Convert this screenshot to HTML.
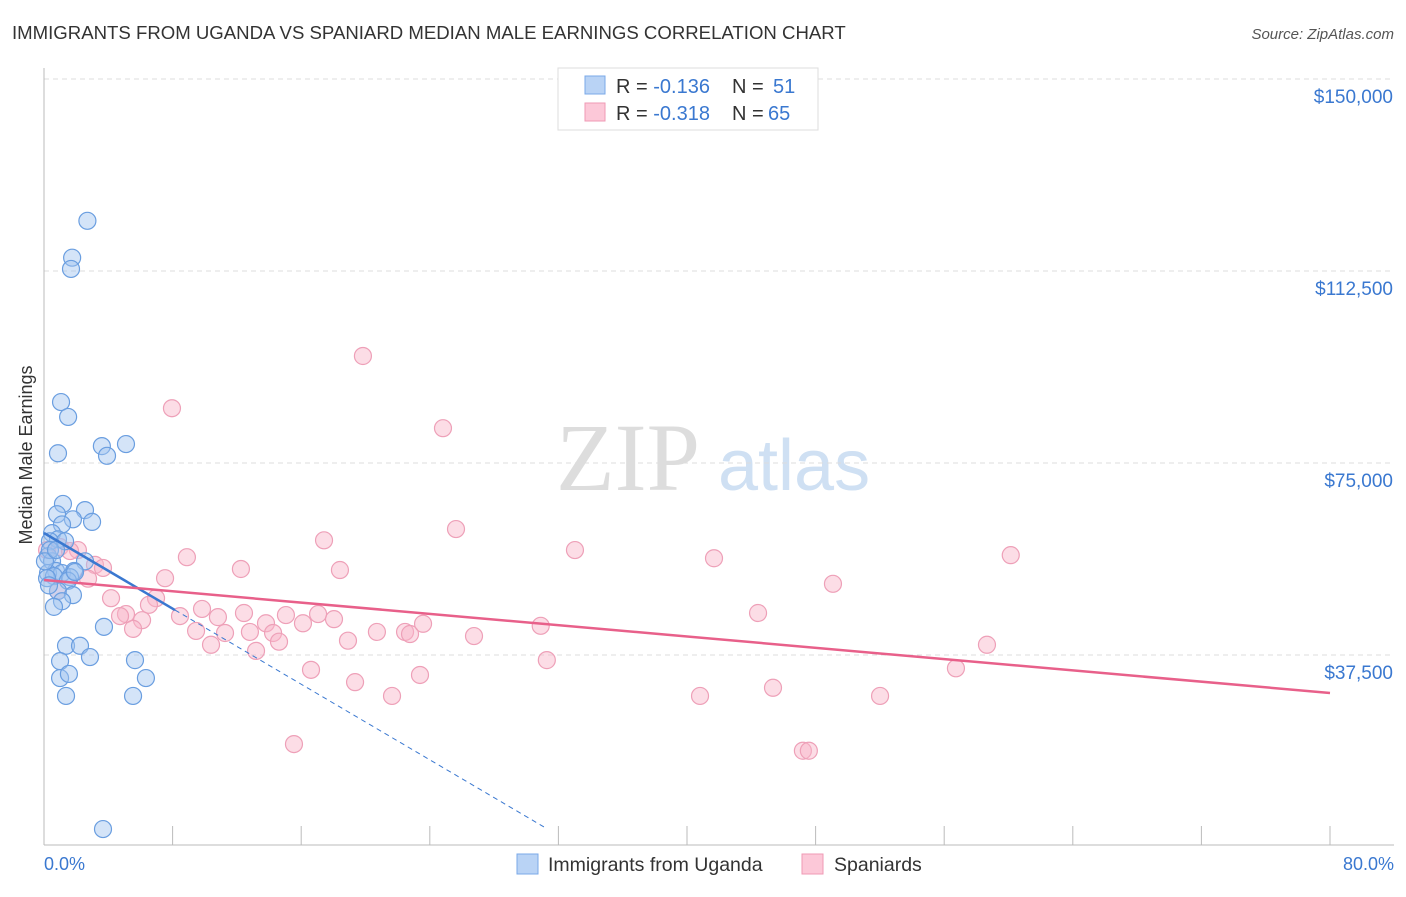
<!DOCTYPE html>
<html><head><meta charset="utf-8"><style>
body{margin:0;background:#fff;font-family:"Liberation Sans",sans-serif;}
</style></head><body>
<svg width="1406" height="892" xmlns="http://www.w3.org/2000/svg" style="font-family:'Liberation Sans',sans-serif">
<text x="12" y="39" font-size="18.6" fill="#333">IMMIGRANTS FROM UGANDA VS SPANIARD MEDIAN MALE EARNINGS CORRELATION CHART</text>
<text x="1394" y="39" font-size="15" fill="#555" text-anchor="end" font-style="italic">Source: ZipAtlas.com</text>
<text x="556" y="490" font-size="96" fill="#ddd" font-family="Liberation Serif">ZIP</text>
<text x="718" y="490" font-size="72" fill="#cfe0f3">atlas</text>
<g id="grid"></g>
<line x1="44" y1="68" x2="44" y2="845" stroke="#bbb"/>
<line x1="44" y1="845" x2="1394" y2="845" stroke="#bbb"/>
<text x="36" y="455" font-size="18" fill="#333" text-anchor="middle" transform="rotate(-90 36 455)" dy="-4">Median Male Earnings</text>
<text x="44" y="870" font-size="18" fill="#3a78d0">0.0%</text>
<text x="1394" y="870" font-size="18" fill="#3a78d0" text-anchor="end">80.0%</text>
<g id="pts"></g>
<g id="lines"></g>
<g>
<rect x="558" y="68" width="260" height="62" fill="#fff" stroke="#ddd"/>
<rect x="585" y="76" width="20" height="18" fill="#b9d3f5" stroke="#7aa8e8"/>
<rect x="585" y="103" width="20" height="18" fill="#fcc8d8" stroke="#ef9ab4"/>
<text x="616" y="93" font-size="20" fill="#333">R = <tspan fill="#3a78d0">-0.136</tspan><tspan x="732">N = </tspan><tspan x="773" fill="#3a78d0">51</tspan></text>
<text x="616" y="120" font-size="20" fill="#333">R = <tspan fill="#3a78d0">-0.318</tspan><tspan x="732">N =</tspan><tspan x="768" fill="#3a78d0">65</tspan></text>
</g>
<g>
<rect x="517" y="854" width="21" height="20" fill="#b9d3f5" stroke="#7aa8e8"/>
<text x="548" y="871" font-size="19.5" fill="#333">Immigrants from Uganda</text>
<rect x="802" y="854" width="21" height="20" fill="#fcc8d8" stroke="#ef9ab4"/>
<text x="834" y="871" font-size="19.5" fill="#333">Spaniards</text>
</g>
</svg>
<script>
const yTicks=[37500,75000,112500,150000];
const yTickLabels=["$37,500","$75,000","$112,500","$150,000"];
const xTicks=[8,16,24,32,40,48,56,64,72,80];
const ugandaX=[2.7,1.75,1.68,1.06,1.5,0.87,3.6,3.92,5.1,1.18,0.81,2.55,1.8,2.99,1.12,0.5,0.87,0.37,1.31,0.25,0.5,2.55,0.75,0.25,1.12,1.87,0.62,1.62,0.19,1.49,0.87,1.8,1.12,0.62,3.73,1.37,2.24,2.86,1.0,5.66,1.0,1.55,6.34,1.37,5.54,3.67,0.37,1.93,0.06,0.75,0.31];
const ugandaY=[122300,115100,112900,86900,84000,76900,78300,76400,78700,67000,65000,65800,64000,63500,63000,61300,60100,59700,59700,56800,55800,55800,53900,53500,53500,53900,52900,52700,52500,52000,50000,49200,48000,46900,43000,39300,39300,37100,36300,36500,33000,33800,33000,29500,29500,3500,58000,53700,55800,58000,51100];
const spainX=[19.84,7.96,24.82,25.63,17.42,33.03,41.68,60.14,8.89,12.25,18.41,7.53,49.08,0.19,0.99,2.11,3.17,3.67,2.74,4.17,6.97,6.53,5.1,4.73,6.1,8.46,9.83,10.82,12.44,13.81,15.05,16.11,17.05,18.04,5.54,9.46,11.26,12.81,14.25,10.39,14.62,18.91,20.71,22.46,22.77,23.58,26.75,30.9,44.42,13.19,31.28,16.61,19.35,23.39,21.65,40.81,45.35,52.01,56.73,58.66,15.55,47.21,47.58,0.87,1.62];
const spainY=[95900,85700,81800,62100,59900,58000,56400,57000,56600,54300,54100,52500,51400,58000,58600,58000,55100,54500,52400,48600,48600,47300,45500,45100,44300,45100,46500,44900,45700,43700,45300,43700,45500,44500,42600,42200,41800,42000,41800,39500,40100,40300,42000,42000,41600,43600,41200,43200,45700,38300,36500,34600,32200,33600,29500,29500,31100,29500,34900,39500,20100,18800,18800,50000,57800];
const X0=44,PX=16.075,Y0=847,PY=192/37500;
const sx=v=>X0+v*PX, sy=v=>Y0-v*PY;
const NS="http://www.w3.org/2000/svg";
const grid=document.getElementById('grid');
yTicks.forEach((t,i)=>{
 const l=document.createElementNS(NS,'line');
 l.setAttribute('x1',44);l.setAttribute('x2',1394);l.setAttribute('y1',sy(t));l.setAttribute('y2',sy(t));
 l.setAttribute('stroke','#ddd');l.setAttribute('stroke-dasharray','5,4');
 
 
 grid.appendChild(l);
 const tx=document.createElementNS(NS,'text');
 tx.setAttribute('x',1393);tx.setAttribute('y',sy(t)+24);tx.setAttribute('text-anchor','end');
 tx.setAttribute('font-size','19');tx.setAttribute('fill','#3a78d0');tx.textContent=yTickLabels[i];
 
 
 grid.appendChild(tx);
});
xTicks.forEach(t=>{
 const x=sx(t);
 const l=document.createElementNS(NS,'line');
 l.setAttribute('x1',x);l.setAttribute('x2',x);l.setAttribute('y1',826);l.setAttribute('y2',845);l.setAttribute('stroke','#bbb');
 
 
 grid.appendChild(l);
});
const pts=document.getElementById('pts');
function dots(xs,ys,fill,stroke,name){
 xs.forEach((v,i)=>{
  const c=document.createElementNS(NS,'circle');
  c.setAttribute('cx',sx(v));c.setAttribute('cy',sy(ys[i]));c.setAttribute('r',8.5);
  c.setAttribute('fill',fill);c.setAttribute('stroke',stroke);c.setAttribute('stroke-width','1.2');
  
  
  pts.appendChild(c);
 });
}
dots(spainX,spainY,'rgba(248,180,200,0.45)','#eea0b8','spaniard-point');
dots(ugandaX,ugandaY,'rgba(160,196,240,0.45)','#6a9ee0','uganda-point');
const lines=document.getElementById('lines');
function ln(x1,y1,x2,y2,col,w,dash,name){
 const l=document.createElementNS(NS,'line');
 l.setAttribute('x1',sx(x1));l.setAttribute('y1',sy(y1));l.setAttribute('x2',sx(x2));l.setAttribute('y2',sy(y2));
 l.setAttribute('stroke',col);l.setAttribute('stroke-width',w);if(dash)l.setAttribute('stroke-dasharray',dash);
 
 
 lines.appendChild(l);
}
const bA=61330,bB=-1846,pA=52150,pB=(30080-52150)/80;
ln(8.15,bA+bB*8.15,31.1,bA+bB*31.1,'#3a78d0',1,'5,4','uganda-trend-dashed');
ln(0,bA,8.15,bA+bB*8.15,'#3a78d0',2.5,null,'uganda-trend-line');
ln(0,pA,80,pA+pB*80,'#e8608a',2.5,null,'spaniard-trend-line');
</script>
</body></html>
